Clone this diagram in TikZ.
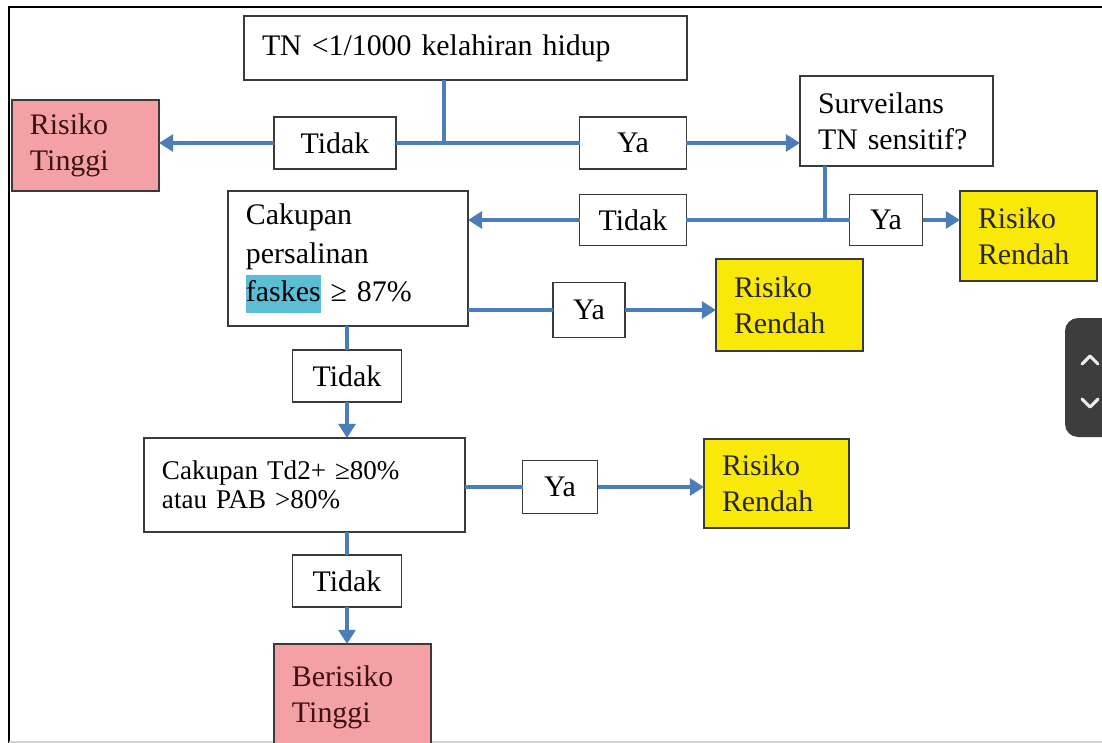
\documentclass[tikz,border=0pt]{standalone}
\usepackage{fontspec}
\setmainfont{Liberation Serif}
\usetikzlibrary{arrows.meta}
\definecolor{flowblue}{HTML}{4A7DBA}
\definecolor{boxline}{HTML}{3A3A3A}
\definecolor{pinkbox}{HTML}{F4A1A6}
\definecolor{yellowbox}{HTML}{F9E908}
\definecolor{darkred}{HTML}{3C1212}
\definecolor{marker}{HTML}{5CBDD6}
\definecolor{widget}{HTML}{3D3D3D}

\begin{document}
\begin{tikzpicture}[x=0.02cm, y=-0.02cm, >={Triangle[length=8pt,width=9.5pt]},
  font=\fontsize{17}{20.5}\selectfont,
  box/.style={draw=boxline, line width=0.8pt, anchor=north west, align=left,
    inner xsep=0.36cm, inner ysep=2pt, outer sep=0pt},
  risk/.style={box, fill=pinkbox, text=darkred},
  low/.style={box, fill=yellowbox, text=black!85},
  lbl/.style={draw=boxline, line width=0.8pt, fill=white, inner sep=0pt, outer sep=0pt},
  flow/.style={draw=flowblue, line width=2.7pt}]
	\useasboundingbox (0,0) rectangle (1102,743);
	\clip (0,0) rectangle (1102,743);
	\fill[white] (0,0) rectangle (1102,743);
	% screen frame
	\draw[line width=1.7pt] (9,743) -- (9,7) -- (1102,7);
	\draw[gray!35, line width=1pt] (9,742) -- (1102,742);
	% boxes
	\node[box, text width=8.14cm, minimum height=1.28cm] (tn) at (244,16) {TN <1/1000 kelahiran hidup};
	\node[risk, text width=2.22cm, minimum height=1.82cm] (tinggiA) at (12,100) {Risiko\\Tinggi};
	\node[box, text width=3.14cm, minimum height=1.80cm] (surv) at (800,76) {Surveilans\\TN sensitif?};
	\node[box, text width=4.08cm, minimum height=2.70cm, font=\fontsize{17}{21.8}\selectfont] (cak) at (228,191)
		{Cakupan\\persalinan\\{\setlength{\fboxsep}{0pt}\colorbox{marker}{\strut faskes}} ≥ 87\%};
	\node[low, text width=2.02cm, minimum height=1.80cm] (rendahA) at (960,191) {Risiko\\Rendah};
	\node[low, text width=2.22cm, minimum height=1.84cm] (rendahB) at (716,259) {Risiko\\Rendah};
	\node[box, text width=5.70cm, minimum height=1.88cm, font=\fontsize{15.4}{16.5}\selectfont] (td) at (144,438)
		{Cakupan Td2+ ≥80\%\\atau PAB >80\%};
	\node[low, text width=2.18cm, minimum height=1.78cm] (rendahC) at (704,439) {Risiko\\Rendah};
	\node[risk, text width=2.42cm, minimum height=2.12cm] (tinggiB) at (274,644) {Berisiko\\Tinggi};
	% answer labels
	\node[lbl, minimum width=2.44cm, minimum height=1.04cm] (tidakA) at (335,143) {Tidak};
	\node[lbl, minimum width=2.14cm, minimum height=1.04cm] (yaA) at (633,143) {Ya};
	\node[lbl, minimum width=2.14cm, minimum height=1.02cm] (tidakB) at (633,220) {Tidak};
	\node[lbl, minimum width=1.46cm, minimum height=1.02cm] (yaB) at (886,220) {Ya};
	\node[lbl, minimum width=1.44cm, minimum height=1.10cm] (yaC) at (589,310) {Ya};
	\node[lbl, minimum width=2.18cm, minimum height=1.04cm] (tidakC) at (347,376) {Tidak};
	\node[lbl, minimum width=1.50cm, minimum height=1.06cm] (yaD) at (560,487) {Ya};
	\node[lbl, minimum width=2.18cm, minimum height=1.04cm] (tidakD) at (347,581) {Tidak};
	\coordinate (j1) at (444,143);
	\coordinate (j2) at (825,220);
	% connectors
	\draw[flow] (tn.south -| j1) -- (j1);
	\draw[flow] (tidakA.east) -- (yaA.west);
	\draw[flow, ->] (tidakA.west) -- (tidakA.west -| tinggiA.east);
	\draw[flow, ->] (yaA.east) -- (yaA.east -| surv.west);
	\draw[flow] (surv.south -| j2) -- (j2);
	\draw[flow] (tidakB.east) -- (yaB.west);
	\draw[flow, ->] (tidakB.west) -- (tidakB.west -| cak.east);
	\draw[flow, ->] (yaB.east) -- (yaB.east -| rendahA.west);
	\draw[flow] (cak.east |- yaC) -- (yaC.west);
	\draw[flow, ->] (yaC.east) -- (yaC.east -| rendahB.west);
	\draw[flow] (cak.south -| tidakC) -- (tidakC.north);
	\draw[flow, ->] (tidakC.south) -- (tidakC.south |- td.north);
	\draw[flow] (td.east |- yaD) -- (yaD.west);
	\draw[flow, ->] (yaD.east) -- (yaD.east -| rendahC.west);
	\draw[flow] (td.south -| tidakD) -- (tidakD.north);
	\draw[flow, ->] (tidakD.south) -- (tidakD.south |- tinggiB.north);
	% scroll buttons at the right edge
	\fill[widget, rounded corners=0.26cm] (1065,318) rectangle (1120,437);
	\draw[white!85!gray, line width=1.8pt, line cap=round, line join=round] (1082,364) -- (1090,356) -- (1098,364);
	\draw[white!85!gray, line width=1.8pt, line cap=round, line join=round] (1082,399) -- (1090,407) -- (1098,399);
\end{tikzpicture}
\end{document}
